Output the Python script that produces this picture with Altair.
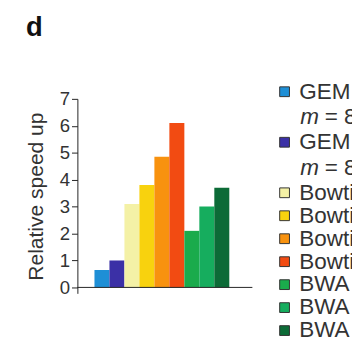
import altair as alt
import pandas as pd

# ---- data ----
labels = ["GEM (fast mode)", "GEM (thorough mode)", "Bowtie (default)", "Bowtie --best",
          "Bowtie -k 10", "Bowtie -a", "BWA (default)", "BWA -n 4", "BWA -n 6"]
second_lines = ["8%", "8%", "", "", "", "", "", "", ""]
speedup = [0.65, 1.0, 3.1, 3.8, 4.85, 6.1, 2.1, 3.0, 3.7]
colors = ["#1e8fd6", "#3b30a6", "#f4f1a6", "#f8d20e", "#f8920f", "#f24b12",
          "#1aab4c", "#16ad5e", "#0c6b37"]
y_ticks = [0, 1, 2, 3, 4, 5, 6, 7]

FONT = "Liberation Sans"
TXT = "#333333"
LEG_FS = 23

df = pd.DataFrame({"label": labels, "speedup": speedup})
df["idx"] = range(len(df))
df["idx_end"] = df["idx"] + 1

# legend rows: two-line entries take more vertical room
heights = [2.2 if s else 1.0 for s in second_lines]
slots = []
acc = 0.0
for h in heights:
    slots.append(acc)
    acc += h
leg = pd.DataFrame({"label": labels, "sub": second_lines, "slot": slots})

px_unit = 15.33
x_lo = -1.14
x_hi = x_lo + 281 / px_unit
axis_end = len(labels) + 1.54
color_scale = alt.Scale(domain=labels, range=colors)

y_scale = alt.Scale(domain=[-0.22, 7], nice=False, zero=False)
y_axis = alt.Axis(values=y_ticks, title="Relative speed up", grid=False,
                  tickSize=6, labelFontSize=19, titleFontSize=21.5,
                  titleFontWeight="normal", labelPadding=2, titlePadding=12,
                  labelOverlap=False, labelBound=False,
                  domainColor="#222222", tickColor="#222222",
                  labelColor=TXT, titleColor=TXT, labelFont=FONT, titleFont=FONT)

bars = alt.Chart(df).mark_bar().encode(
    x=alt.X("idx:Q", scale=alt.Scale(domain=[x_lo, x_hi], nice=False, zero=False), axis=None),
    x2="idx_end:Q",
    y=alt.Y("speedup:Q", scale=y_scale, axis=y_axis),
    y2=alt.datum(0),
    color=alt.Color("label:N", scale=color_scale, legend=None),
)

xline = alt.Chart(pd.DataFrame({"v": [0]})).mark_rule(color="#222222", strokeWidth=1).encode(
    x=alt.datum(x_lo), x2=alt.datum(axis_end),
    y=alt.YDatum(0, scale=y_scale, axis=y_axis),
)

pitch = 23.5
d0 = (97.3 - 90) / pitch
d1 = d0 + 199 / pitch
leg_y = alt.Y("slot:Q", scale=alt.Scale(domain=[d0, d1], reverse=True, nice=False, zero=False), axis=None)

leg_sq = alt.Chart(leg).mark_square(size=100, stroke="#333333", strokeWidth=1, opacity=1).encode(
    x=alt.value(212), y=leg_y,
    color=alt.Color("label:N", scale=color_scale, legend=None),
)
leg_txt = alt.Chart(leg).mark_text(align="left", baseline="middle", fontSize=LEG_FS, font=FONT,
                                   color=TXT).encode(
    x=alt.value(227), y=leg_y, text="label:N"
)
leg_m = alt.Chart(leg).transform_filter("datum.sub != ''").mark_text(
    align="left", baseline="middle", fontSize=LEG_FS, font=FONT, fontStyle="italic", color=TXT, dy=26
).encode(x=alt.value(228), y=leg_y, text=alt.value("m"))
leg_eq = alt.Chart(leg).transform_filter("datum.sub != ''").transform_calculate(
    t="'= ' + datum.sub"
).mark_text(
    align="left", baseline="middle", fontSize=LEG_FS, font=FONT, color=TXT, dy=26
).encode(x=alt.value(253), y=leg_y, text="t:N")

main = alt.layer(bars, xline)
legend_part = alt.layer(leg_sq, leg_txt, leg_m, leg_eq)

chart = alt.layer(main, legend_part).resolve_scale(
    y="independent"
).properties(
    width=281, height=199,
    padding={"left": 71, "top": 89, "right": 0, "bottom": 54},
    autosize=alt.AutoSizeParams(type="none"),
    title=alt.Title("d", anchor="start", fontSize=28, fontWeight="bold", font="Liberation Sans",
                    color="#111111", offset=40),
    background="white",
).configure_view(stroke=None)

chart.save("out.html", embed_options={"renderer": "svg", "actions": False})
